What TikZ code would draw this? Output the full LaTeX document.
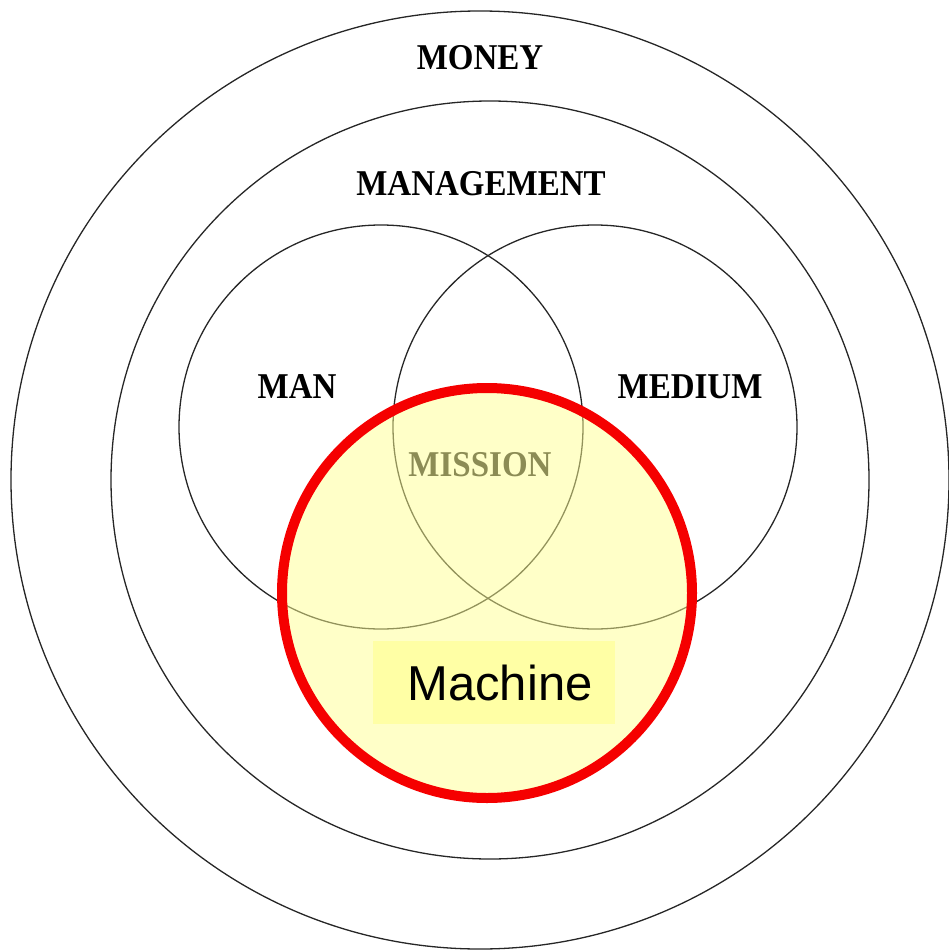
\documentclass[tikz,border=0pt]{standalone}
\usepackage{fontspec}
\setmainfont{Liberation Serif}
\newfontfamily\arialfont{Liberation Sans}

\definecolor{discfill}{RGB}{255,255,145}
\definecolor{boxfill}{RGB}{255,255,165}
\definecolor{ringred}{RGB}{245,0,0}

\begin{document}
\begin{tikzpicture}[x=1pt,y=-1pt,
  ring/.style={line width=1.3pt,color=black!85},
  lbl/.style={font=\fontsize{33}{36}\selectfont\bfseries,yscale=1.1}]

\useasboundingbox (0,0) rectangle (949,952);

% the rings
\draw[ring] (480,480) circle[radius=469];
\draw[ring] (490,480) circle[radius=379];
\draw[ring] (381,427) circle[radius=202];
\draw[ring] (595,427) circle[radius=202];

\node[lbl] (money) at (480,58) {MONEY};
\node[lbl] (management) at (481,184) {MANAGEMENT};
\node[lbl] (man) at (297,387) {MAN};
\node[lbl] (medium) at (690,387) {MEDIUM};
\node[lbl,color=black!90] (mission) at (480,465) {MISSION};

% the machine disc
\fill[color=discfill,fill opacity=0.5] (487,593) circle[radius=205];
\draw[color=ringred,line width=10pt] (487,593) circle[radius=205];

\node[fill=boxfill,minimum width=242,minimum height=83,inner sep=0pt,
  font=\arialfont\fontsize{49}{52}\selectfont] (machine) at (494,682.5) {\hspace*{12pt}Machine};

\end{tikzpicture}
\end{document}
